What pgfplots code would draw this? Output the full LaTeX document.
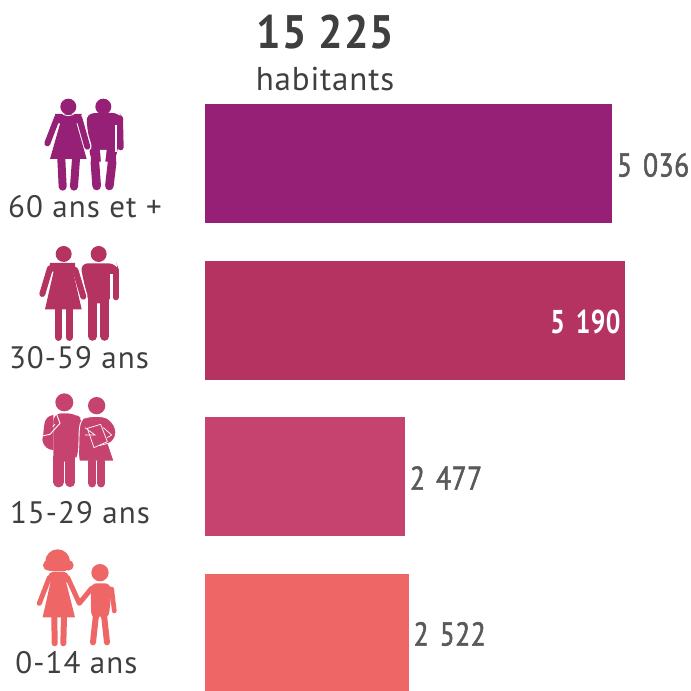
\documentclass[border=0pt]{standalone}
\usepackage{pgfplots}
\pgfplotsset{compat=1.18}
\usepackage{fontspec}
\setmainfont{PT Sans}
\newfontfamily\valfont[FakeStretch=0.84,LetterSpace=1.3,FakeBold=1.5]{PT Sans}
\newfontfamily\valwfont[FakeStretch=0.78,LetterSpace=1]{PT Sans Bold}
\newfontfamily\labfont[LetterSpace=3.5]{PT Sans}
\newfontfamily\habfont[LetterSpace=2.5]{PT Sans}
\newfontfamily\titfont[FakeStretch=0.92,LetterSpace=2]{PT Sans Bold}
\definecolor{cA}{HTML}{962076}
\definecolor{cB}{HTML}{B43361}
\definecolor{cC}{HTML}{C64370}
\definecolor{cD}{HTML}{EE6666}
\definecolor{txt}{HTML}{3F3F3F}
\definecolor{val}{HTML}{595959}
\newcommand{\limb}[3]{\draw[#1,line width=#2*0.3333pt,line cap=round,line join=round] #3;}
\begin{document}
\begin{tikzpicture}
\useasboundingbox (0pt,0pt) rectangle (691pt,691pt);
\begin{axis}[
  at={(0pt,0pt)},anchor=south west,
  scale only axis,width=691pt,height=691pt,
  xmin=-2534,xmax=6007,ymin=-691,ymax=0,
  axis line style={draw=none},tick style={draw=none},
  xtick=\empty,ytick=\empty,
  xbar,bar shift=0pt,bar width=119pt,
  clip=false,
  nodes near coords,
  every node near coord/.append style={font=\valfont\fontsize{33}{33}\selectfont,text=val,anchor=west,xshift=1pt,yshift=-1.5pt,
     /pgf/number format/1000 sep={\,\,},/pgf/number format/assume math mode=true},
]
\addplot[fill=cA,draw=none] coordinates {(5036,-163.5)};
\addplot[fill=cB,draw=none,every node near coord/.append style={font=\valwfont\fontsize{33}{33}\selectfont,text=white,anchor=east,xshift=-2pt}] coordinates {(5190,-320.5)};
\addplot[fill=cC,draw=none] coordinates {(2477,-476.5)};
\addplot[fill=cD,draw=none,bar width=117pt] coordinates {(2522,-632.5)};
\end{axis}
\node[font=\titfont\fontsize{47}{47}\selectfont,text=txt] at (325.5pt,659pt) {15 225};
\node[font=\habfont\fontsize{33}{33}\selectfont,text=txt] at (325pt,612pt) {habitants};
\node[font=\labfont\fontsize{31}{31}\selectfont,text=txt] at (85pt,484pt) {60 ans et +};
\node[font=\labfont\fontsize{31}{31}\selectfont,text=txt] at (79pt,333pt) {30-59 ans};
\node[font=\labfont\fontsize{31}{31}\selectfont,text=txt] at (80pt,178pt) {15-29 ans};
\node[font=\labfont\fontsize{31}{31}\selectfont,text=txt] at (76.5pt,28pt) {0-14 ans};
% icon 60+
\begin{scope}[x=0.3333pt,y=-0.3333pt,yshift=601pt]
 \fill[cA] (205,50) circle (24); \fill[cA] (310,50) circle (24);
 \fill[cA,rounded corners=8pt] (258,70)--(358,68)--(372,90)--(345,215)--(272,215)--cycle;
 \limb{cA}{18}{(360,85)--(362,172)}
 \limb{cA}{26}{(288,170)--(285,220)--(290,288)}
 \limb{cA}{26}{(332,170)--(336,220)--(328,288)}
 \fill[white] (300,180)--(320,180)--(314,230)--(316,300)--(304,300)--(304,230)--cycle;
 \fill[white] (345,105)--(351,105)--(351,185)--(345,185)--cycle;
 \limb{white}{26}{(238,85)--(262,170)}
 \fill[cA] (182,95)--(228,95)--(260,207)--(150,207)--cycle;
 \limb{cA}{18}{(172,82)--(142,160)}
 \limb{cA}{18}{(238,85)--(262,170)}
 \fill[cA] (165,72)--(245,72)--(240,100)--(170,100)--cycle;
 \limb{cA}{24}{(184,207)--(188,290)}
 \limb{cA}{24}{(228,207)--(222,290)}
 \draw[white,line width=.8pt] (183,68) .. controls (195,80) and (215,80) .. (227,68);
\end{scope}
% icon 30-59
\begin{scope}[x=0.3333pt,y=-0.3333pt,yshift=601pt]
 \fill[cB] (191,492) circle (24); \fill[cB] (296,492) circle (24);
 \fill[cB,rounded corners=8pt] (240,520)--(350,520)--(356,540)--(328,640)--(265,640)--cycle;
 \limb{cB}{18}{(347,540)--(347,622)}
 \limb{cB}{27}{(278,630)--(278,739)}
 \limb{cB}{27}{(314,630)--(314,739)}
 \fill[white] (330,552)--(338,552)--(338,630)--(330,630)--cycle;
 \limb{white}{26}{(226,540)--(250,620)}
 \fill[cB] (162,540)--(218,540)--(245,658)--(135,658)--cycle;
 \limb{cB}{18}{(150,535)--(127,612)}
 \limb{cB}{18}{(226,540)--(250,620)}
 \fill[cB] (150,519)--(225,519)--(226,545)--(146,545)--cycle;
 \limb{cB}{22}{(175,658)--(175,742)}
 \limb{cB}{22}{(208,658)--(208,742)}
\end{scope}
% icon 15-29
\begin{scope}[x=0.3333pt,y=-0.3333pt,yshift=306pt]
 \fill[cC] (193,52) circle (27); \fill[cC] (290,62) circle (26);
 \fill[cC] (160,90) .. controls (125,95) and (135,130) .. (127,165) .. controls (130,185) and (145,195) .. (160,195)--cycle;
 \fill[cC,rounded corners=8pt] (160,85)--(225,85)--(250,105)--(235,200)--(225,230)--(160,230)--cycle;
 \limb{cC}{31}{(176,215)--(176,292)}
 \limb{cC}{29}{(211,215)--(211,292)}
 \draw[white,line width=.9pt] (170,88)--(180,115)--(150,148)--(130,152);
 \draw[white,line width=.9pt] (165,118)--(158,125);
 \draw[white,line width=.9pt,fill=cC] (235,205) .. controls (240,150) and (232,120) .. (250,100) .. controls (275,92) and (310,92) .. (325,102) .. controls (355,125) and (355,160) .. (325,178) -- (342,228) -- (238,228) -- cycle;
 \limb{cC}{25}{(277,230)--(277,295)}
 \limb{cC}{25}{(304,230)--(304,295)}
 \draw[white,line width=.7pt,line join=round] (262,130)--(302,118)--(322,170)--(282,188)--cycle;
 \draw[white,line width=.7pt] (255,128)--(285,150)--(255,150);
 \draw[white,line width=.7pt] (310,128)--(335,150)--(322,158);
 \draw[white,line width=.7pt] (298,182)--(335,172);
\end{scope}
% icon 0-14
\begin{scope}[x=0.3333pt,y=-0.3333pt,yshift=306pt]
 \fill[cD] (173,530) circle (37); \fill[cD] (145,541) circle (16); \fill[cD] (205,541) circle (16);
 \fill[white] (135,558) rectangle (215,563);
 \fill[cD] (152,590)--(198,590)--(225,697)--(128,697)--cycle;
 \fill[cD,rounded corners=5pt] (145,560)--(205,560)--(208,595)--(145,595)--cycle;
 \limb{cD}{15}{(148,578)--(118,655)}
 \limb{cD}{15}{(203,578)--(238,655)--(275,610)}
 \draw[cD,line width=6pt,line cap=round] (163,697)--(164,775);
 \draw[cD,line width=6pt,line cap=round] (192,697)--(190,775);
 \fill[cD] (300,563) circle (26);
 \fill[cD,rounded corners=6pt] (272,595)--(332,595)--(334,625)--(326,700)--(274,700)--cycle;
 \limb{cD}{14}{(335,612)--(343,678)}
 \draw[cD,line width=6pt,line cap=round] (288,690)--(279,772);
 \draw[cD,line width=6pt,line cap=round] (312,690)--(321,772);
 \fill[white] (298,695)--(302,695)--(310,785)--(290,785)--cycle;
\end{scope}
\end{tikzpicture}
\end{document}
